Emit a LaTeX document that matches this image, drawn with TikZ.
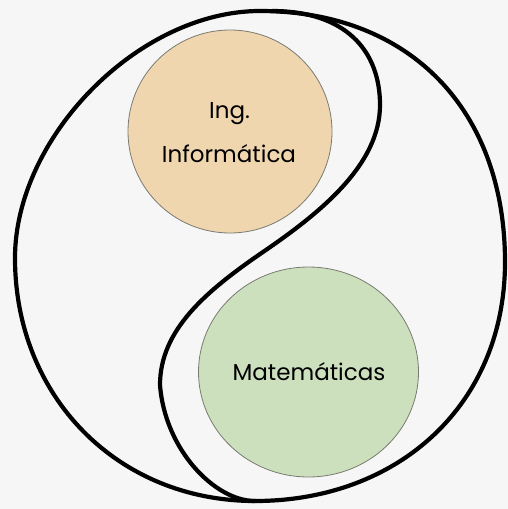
\documentclass[tikz,border=0pt]{standalone}
\usepackage{fontspec}
\setmainfont{Poppins}
\definecolor{bgc}{HTML}{F6F6F6}
\definecolor{peach}{HTML}{F0D6AF}
\definecolor{sage}{HTML}{CCE0BE}
\definecolor{rimc}{HTML}{7A7A72}
\tikzset{
  bigline/.style={line width=4.2pt, black, line join=round, line cap=round},
  blob/.style={draw=rimc, line width=0.8pt},
  lbl/.style={anchor=base, inner sep=0pt, font=\fontsize{23}{27}\selectfont}
}
\begin{document}
\begin{tikzpicture}[x=1pt,y=-1pt]
\fill[bgc] (0,0) rectangle (508,509);
\useasboundingbox (0,0) rectangle (508,509);
% coloured discs
\draw[blob, fill=peach] (230,131.5) ellipse [x radius=102, y radius=101.5];
\draw[blob, fill=sage] (308.5,372) ellipse [x radius=110, y radius=105];
% outer shape
\coordinate (T) at (260,11);
\coordinate (R) at (505,262);
\coordinate (B) at (255,501);
\coordinate (L) at (15,258);
\draw[bigline] (T) .. controls (411,11) and (505,111) .. (R)
  .. controls (505,405) and (398,501) .. (B)
  .. controls (117,501) and (15,396) .. (L)
  .. controls (15,137) and (139,11) .. (T) -- cycle;
% S curve
\coordinate (S0) at (272,11);
\coordinate (S1) at (380,105);
\coordinate (S2) at (263,252);
\coordinate (S3) at (160,385);
\coordinate (S4) at (255,501);
\draw[bigline] (S0) .. controls (345,11) and (380,50) .. (S1)
  .. controls (380,165) and (320,213) .. (S2)
  .. controls (206,291) and (160,330) .. (S3)
  .. controls (165,450) and (215,501) .. (S4);
% labels
\node[lbl] (ing) at (229.5,118) {Ing.};
\node[lbl] (inf) at (229,162) {Informática};
\node[lbl] (mat) at (309,380) {Matemáticas};
\end{tikzpicture}
\end{document}
